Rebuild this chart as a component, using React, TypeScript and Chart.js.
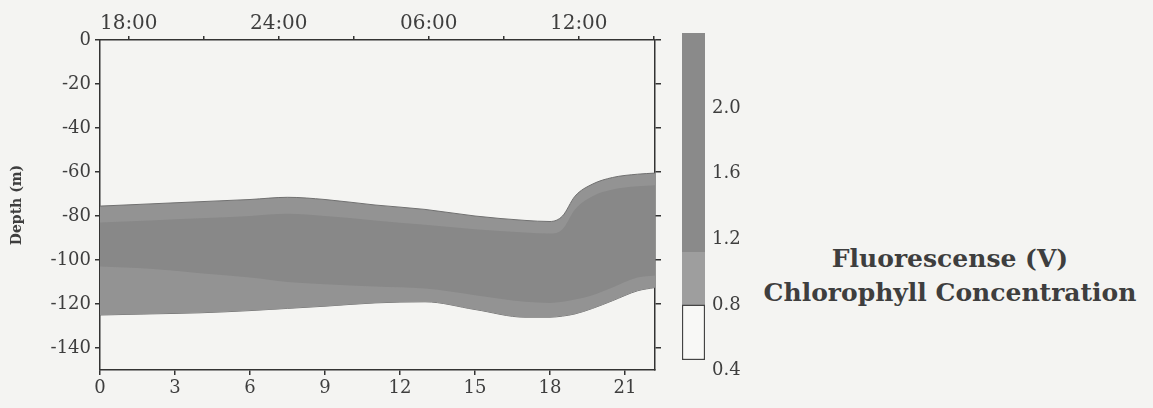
import React, { useEffect, useRef } from 'react';
import { Chart, registerables } from 'chart.js';

Chart.register(...registerables);

// Hours since start of cast (bottom axis)
const hours = [0, 2, 4, 6, 7.5, 9, 11, 13, 15, 17, 18, 18.5, 19, 19.7, 20.5, 21.5, 22.2];
// Upper / lower depth of the >0.8 V fluorescence layer
const bandTop = [-75.5, -74.5, -73.5, -72.5, -71.5, -72.5, -75, -77, -80, -82, -82.5, -80, -71, -65.5, -62.5, -61, -60.5];
const bandBottom = [-125, -124.5, -124, -123, -122, -121, -119.5, -119, -122.5, -126, -126, -125.5, -124.5, -122, -118.5, -114, -112.5];
// Upper / lower depth of the >1.2 V core
const coreTop = [-83, -82, -81, -80, -79, -80, -82, -84, -86, -87.5, -88, -86, -77, -71, -68, -66.5, -66];
const coreBottom = [-103, -104, -106, -108, -110, -111, -112, -113, -116, -119, -119.5, -119, -118, -116, -112.5, -108, -107];

const hourTicks = [0, 3, 6, 9, 12, 15, 18, 21];
const depthTicks = [0, -20, -40, -60, -80, -100, -120, -140];
const clockTickValues = [1.15, 4.15, 7.15, 10.15, 13.15, 16.15, 19.15, 22.15];
const clockTickLabels = ['18:00', '', '24:00', '', '06:00', '', '12:00', ''];

// Colour bar levels (V)
const cbWhite = [0.464, 0.8];
const cbLight = [0.8, 1.12];
const cbDark = [1.12, 2.458];
const cbTicks = [0.4, 0.8, 1.2, 1.6, 2.0];

const TEXT = '#3e3e3e';
const AXIS = '#333';
const BG = '#f4f4f2';
const tickFont = { family: 'DejaVu Serif', size: 18 };

const pts = (ys: number[]) => hours.map((h, i) => ({ x: h, y: ys[i] }));

export default function App() {
  const mainRef = useRef<HTMLCanvasElement>(null);
  const barRef = useRef<HTMLCanvasElement>(null);

  useEffect(() => {
    document.body.style.margin = '0';
    document.body.style.background = BG;

    const lineBase = {
      pointRadius: 0,
      cubicInterpolationMode: 'monotone' as const,
      xAxisID: 'x',
      yAxisID: 'y',
    };
    const main = new Chart(mainRef.current!, {
      type: 'line',
      data: {
        datasets: [
          // drawn last = on top
          { ...lineBase, data: pts(coreTop), borderWidth: 0, borderColor: 'rgba(0,0,0,0)', backgroundColor: '#888888', fill: '+1' },
          { ...lineBase, data: pts(coreBottom), borderWidth: 0, borderColor: 'rgba(0,0,0,0)', fill: false },
          { ...lineBase, data: pts(bandTop), borderColor: '#707070', borderWidth: 1, backgroundColor: '#939393', fill: '+1' },
          { ...lineBase, data: pts(bandBottom), borderColor: '#707070', borderWidth: 1, fill: false },
        ],
      },
      options: {
        animation: false,
        responsive: false,
        layout: { padding: 0 },
        plugins: { legend: { display: false }, tooltip: { enabled: false } },
        scales: {
          x: {
            type: 'linear', position: 'bottom', min: 0, max: 22.2,
            afterBuildTicks: (s: any) => { s.ticks = hourTicks.map((v) => ({ value: v })); },
            ticks: { font: tickFont, color: TEXT, padding: 3, maxRotation: 0, autoSkip: false, callback: (v: any) => String(v) },
            grid: { drawOnChartArea: false, tickLength: 5, color: AXIS, lineWidth: 1.5 },
            border: { color: AXIS, width: 1.5 },
            afterFit: (s: any) => { s.height = 38; },
          },
          xTop: {
            type: 'linear', position: 'top', min: 0, max: 22.2,
            afterBuildTicks: (s: any) => { s.ticks = clockTickValues.map((v) => ({ value: v })); },
            ticks: { font: { family: 'DejaVu Serif', size: 20 }, color: TEXT, padding: 0, maxRotation: 0, autoSkip: false, callback: (_v: any, i: number) => clockTickLabels[i] },
            grid: { drawOnChartArea: false, tickLength: 4, color: AXIS, lineWidth: 1.5 },
            border: { color: AXIS, width: 1.5 },
            afterFit: (s: any) => { s.height = 40; },
          },
          y: {
            type: 'linear', position: 'left', min: -150, max: 0,
            afterBuildTicks: (s: any) => { s.ticks = depthTicks.map((v) => ({ value: v })); },
            ticks: { font: tickFont, color: TEXT, padding: 4, autoSkip: false, callback: (v: any) => String(v) },
            grid: { drawOnChartArea: false, tickLength: 5, color: AXIS, lineWidth: 1.5 },
            border: { color: AXIS, width: 1.5 },
            title: { display: true, text: 'Depth (m)', color: TEXT, font: { family: 'DejaVu Serif', weight: 'bold', size: 14 }, padding: { top: 9, bottom: 0 } },
            afterFit: (s: any) => { s.width = 100; },
          },
          yRight: {
            type: 'linear', position: 'right', min: -150, max: 0,
            afterBuildTicks: (s: any) => { s.ticks = depthTicks.map((v) => ({ value: v })); },
            ticks: { display: false },
            grid: { drawOnChartArea: false, tickLength: 6, color: AXIS, lineWidth: 1.5 },
            border: { color: AXIS, width: 1.5 },
            afterFit: (s: any) => { s.width = 25; },
          },
        },
      } as any,
    });

    const bar = new Chart(barRef.current!, {
      type: 'bar',
      data: {
        labels: ['V'],
        datasets: [
          { data: [cbWhite] as any, backgroundColor: '#f8f8f6', borderColor: '#444', borderWidth: 1.5, borderSkipped: false, grouped: false, barPercentage: 1, categoryPercentage: 1 },
          { data: [cbLight] as any, backgroundColor: '#9e9e9e', borderWidth: 0, grouped: false, barPercentage: 1, categoryPercentage: 1 },
          { data: [cbDark] as any, backgroundColor: '#8a8a8a', borderWidth: 0, grouped: false, barPercentage: 1, categoryPercentage: 1 },
        ],
      },
      options: {
        animation: false,
        responsive: false,
        layout: { padding: { left: 42, top: 33, bottom: 48, right: 0 } },
        plugins: { legend: { display: false }, tooltip: { enabled: false } },
        scales: {
          x: { display: false },
          y: {
            type: 'linear', position: 'right', min: cbWhite[0], max: cbDark[1],
            afterBuildTicks: (s: any) => { s.ticks = cbTicks.map((v) => ({ value: v })); },
            ticks: { font: { family: 'DejaVu Serif', size: 18 }, color: TEXT, padding: 7, autoSkip: false, callback: (v: any) => Number(v).toFixed(1) },
            grid: { display: false, drawTicks: false },
            border: { display: false },
            afterFit: (s: any) => { s.width = 55; },
          },
        },
      } as any,
    });

    return () => { main.destroy(); bar.destroy(); };
  }, []);

  const label: React.CSSProperties = {
    position: 'absolute',
    left: 950,
    fontFamily: 'DejaVu Serif',
    fontWeight: 'bold',
    fontSize: 25,
    lineHeight: '30px',
    color: TEXT,
    whiteSpace: 'nowrap',
    transform: 'translateX(-50%)',
  };

  return (
    <div style={{ position: 'relative', width: 1153, height: 408, background: BG, overflow: 'hidden' }}>
      <canvas ref={mainRef} width={680} height={408} style={{ position: 'absolute', left: 0, top: 0, width: 680, height: 408 }} />
      <canvas ref={barRef} width={120} height={408} style={{ position: 'absolute', left: 640, top: 0, width: 120, height: 408 }} />
      <div style={{ ...label, top: 244 }}>Fluorescense (V)</div>
      <div style={{ ...label, top: 278 }}>Chlorophyll Concentration</div>
    </div>
  );
}
